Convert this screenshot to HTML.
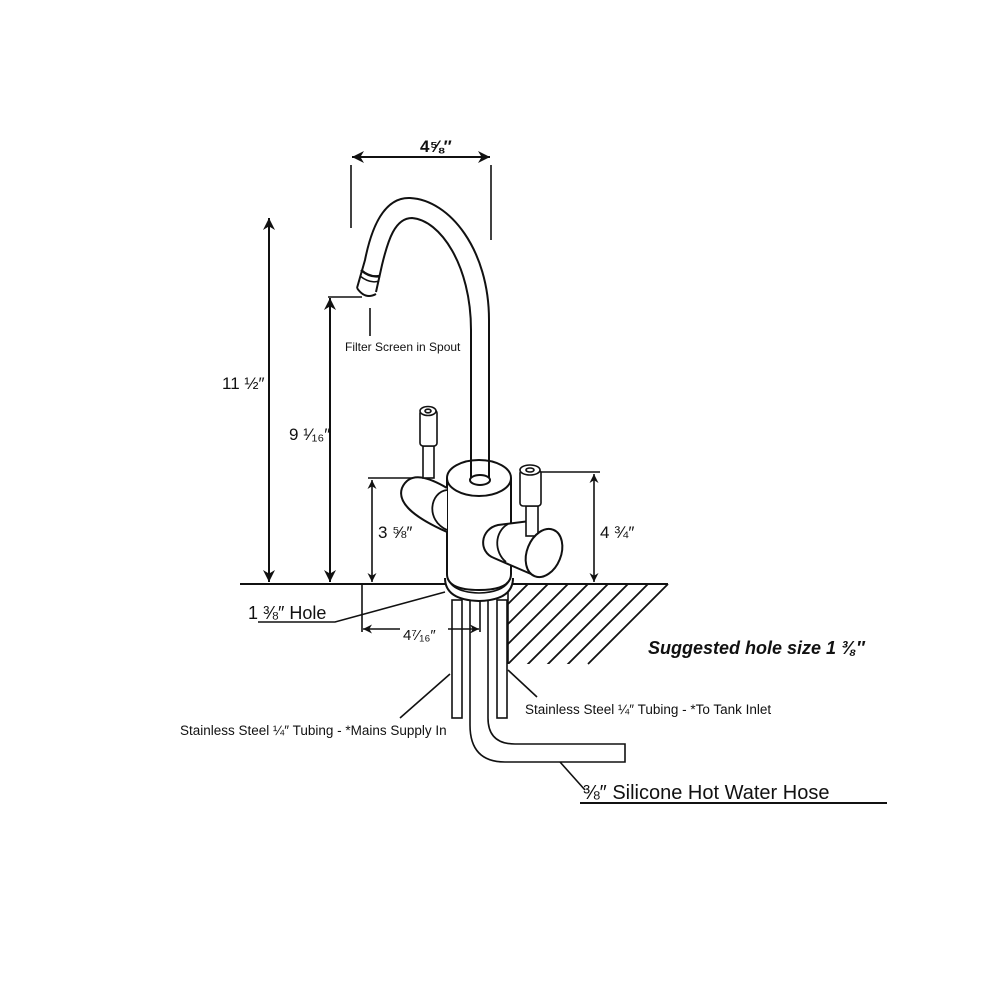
<!DOCTYPE html>
<html><head><meta charset="utf-8"><style>
html,body{margin:0;padding:0;background:#fff}
svg{display:block}
text{font-family:"Liberation Sans",sans-serif;fill:#111}
</style></head><body>
<svg width="1000" height="1000" viewBox="0 0 1000 1000" xmlns="http://www.w3.org/2000/svg">
<defs>
<marker id="ar" viewBox="0 0 10 10" refX="10" refY="5" markerWidth="12" markerHeight="12" orient="auto-start-reverse" markerUnits="userSpaceOnUse"><path d="M0,0 L10,5 L0,10 L3,5 z" fill="#111"/></marker>
<marker id="as" viewBox="0 0 10 10" refX="10" refY="5" markerWidth="9" markerHeight="9" orient="auto-start-reverse" markerUnits="userSpaceOnUse"><path d="M0,0 L10,5 L0,10 L3,5 z" fill="#111"/></marker>
<clipPath id="hc"><polygon points="508,584 670,584 590,664 508,664"/></clipPath>
</defs>
<g stroke="#111" fill="none" stroke-width="1.6">
<line x1="352" y1="157" x2="490" y2="157" stroke-width="2" marker-start="url(#ar)" marker-end="url(#ar)"/>
<line x1="351" y1="165" x2="351" y2="228"/>
<line x1="491" y1="165" x2="491" y2="240"/>
<line x1="269" y1="218" x2="269" y2="582" stroke-width="2" marker-start="url(#ar)" marker-end="url(#ar)"/>
<line x1="330" y1="298" x2="330" y2="582" stroke-width="2" marker-start="url(#ar)" marker-end="url(#ar)"/>
<line x1="328" y1="297" x2="362" y2="297"/>
<line x1="370" y1="308" x2="370" y2="336"/>
<line x1="372" y1="480" x2="372" y2="582" marker-start="url(#as)" marker-end="url(#as)"/>
<line x1="368" y1="478" x2="418" y2="478"/>
<line x1="594" y1="474" x2="594" y2="582" marker-start="url(#as)" marker-end="url(#as)"/>
<line x1="540" y1="472" x2="600" y2="472"/>
<line x1="240" y1="584" x2="668" y2="584" stroke-width="2"/>
<line x1="508" y1="584" x2="508" y2="664"/>
<line x1="668" y1="584" x2="588" y2="664" stroke-width="1.8"/>
<g clip-path="url(#hc)" stroke-width="1.8">
<line x1="648" y1="584" x2="548" y2="684"/>
<line x1="628" y1="584" x2="528" y2="684"/><line x1="608" y1="584" x2="508" y2="684"/>
<line x1="588" y1="584" x2="488" y2="684"/><line x1="568" y1="584" x2="468" y2="684"/>
<line x1="548" y1="584" x2="448" y2="684"/><line x1="528" y1="584" x2="428" y2="684"/>
</g>
<rect x="452" y="600" width="10" height="118" fill="#fff"/>
<rect x="497" y="600" width="10" height="118" fill="#fff"/>
<path d="M470,600 V725 Q470,762 505,762 H625 V744 H515 Q488,744 488,718 V600" fill="#fff"/>
<path d="M445,578 Q445,600 479,601 Q513,600 513,578" stroke-width="2" fill="#fff"/>
<path d="M447,572 Q447,592 479,593 Q511,592 511,572"/>
<path d="M447,478 V574 Q447,590 479,590 Q511,590 511,574 V478" fill="#fff" stroke-width="2"/>
<ellipse cx="479" cy="478" rx="32" ry="18" fill="#fff" stroke-width="2"/>
<ellipse cx="480" cy="480" rx="10" ry="5" stroke-width="2"/>
<path d="M489,478 V320 C489,250 450,200 410,198 C385,197 372,225 365,260 L357,288" stroke-width="2"/>
<path d="M471,478 V330 C471,265 440,220 412,218 C395,218 388,240 382,265 L376,292" stroke-width="2"/>
<path d="M357,288 Q365,300 376,294" stroke-width="2"/>
<path d="M361,270 Q370,278 380,276" stroke-width="2.5"/>
<path d="M360,276 Q370,284 379,281" stroke-width="1.5"/>
<path d="M447,488 C430,478 410,470 402,488 C396,505 420,520 447,532" fill="#fff" stroke-width="2"/>
<path d="M447,490 C430,492 425,520 447,530" stroke-width="1.8"/>
<rect x="423" y="446" width="11" height="32" fill="#fff"/>
<rect x="420" y="410" width="17" height="36" rx="3" fill="#fff"/>
<ellipse cx="428" cy="411" rx="8" ry="4.5" fill="#fff"/>
<ellipse cx="428" cy="411" rx="3" ry="1.8"/>
<path d="M530,521 L498,525 C480,529 478,552 494,558 L538,577" fill="#fff" stroke-width="2"/>
<path d="M508,524 C494,532 494,552 506,562" stroke-width="1.8"/>
<rect x="526" y="506" width="12" height="30" fill="#fff"/>
<ellipse cx="544" cy="553" rx="17" ry="25" transform="rotate(22 544 553)" fill="#fff" stroke-width="2"/>
<rect x="520" y="470" width="21" height="36" rx="3" fill="#fff"/>
<ellipse cx="530" cy="470" rx="10" ry="5" fill="#fff"/>
<ellipse cx="530" cy="470" rx="4" ry="2"/>
<polyline points="258,622 335,622 445,592"/>
<line x1="362" y1="584" x2="362" y2="632"/>
<line x1="480" y1="600" x2="480" y2="632"/>
<line x1="363" y1="629" x2="400" y2="629" marker-start="url(#as)"/>
<line x1="448" y1="629" x2="479" y2="629" marker-end="url(#as)"/>
<line x1="450" y1="674" x2="400" y2="718"/>
<line x1="508" y1="670" x2="537" y2="697"/>
<line x1="560" y1="762" x2="585" y2="790"/>
<line x1="580" y1="803" x2="887" y2="803" stroke-width="2"/>
</g>
<text x="420" y="152" font-size="17" font-weight="bold">4⅝″</text>
<text x="222" y="389" font-size="17">11 ½″</text>
<text x="289" y="440" font-size="17">9 ¹⁄₁₆″</text>
<text x="345" y="351" font-size="12">Filter Screen in Spout</text>
<text x="378" y="538" font-size="17">3 ⅝″</text>
<text x="600" y="538" font-size="17">4 ¾″</text>
<text x="248" y="619" font-size="18">1 ⅜″ Hole</text>
<text x="403" y="640" font-size="15">4⁷⁄₁₆″</text>
<text x="648" y="654" font-size="18" font-weight="bold" font-style="italic">Suggested hole size 1 ⅜″</text>
<text x="180" y="735" font-size="13.5">Stainless Steel ¼″ Tubing - *Mains Supply In</text>
<text x="525" y="714" font-size="13.5">Stainless Steel ¼″ Tubing - *To Tank Inlet</text>
<text x="583" y="799" font-size="20">⅜″ Silicone Hot Water Hose</text>
</svg>
</body></html>
